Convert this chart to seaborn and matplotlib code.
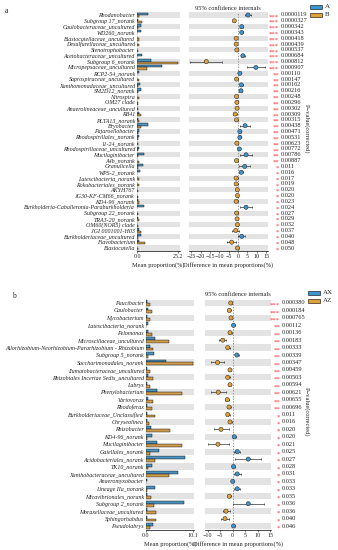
import numpy as np
import pandas as pd
import matplotlib
matplotlib.use("Agg")
import matplotlib.pyplot as plt
import seaborn as sns
from matplotlib.patches import Rectangle
from matplotlib import transforms

# ---------------- data: panel a ----------------
names_a = ["Rhodanobacter", "Subgroup 17_norank", "Caulobacteraceae_uncultured", "WD260_norank",
           "Blastocatellaceae_uncultured", "Desulfurellaceae_uncultured", "Stenotrophobacter",
           "Acetobacteraceae_uncultured", "Subgroup 6_norank", "Micropepsaceae_uncultured",
           "RCP2-54_norank", "Saprospiraceae_uncultured", "Xanthomonadaceae_uncultured",
           "SM2D12_norank", "Nitrospira", "OM27 clade", "Anaerolineaceae_uncultured", "RB41",
           "PLTA13_norank", "Bryobacter", "Pajaroellobacter", "Rhodospirillales_norank",
           "11-24_norank", "Rhodospirillaceae_uncultured", "Mucilaginibacter", "A4b_norank",
           "Granulicella", "WPS-2_norank", "Latescibacteria_norank", "Rokubacteriales_norank",
           "AKYH767", "JG30-KF-CM66_norank", "KD4-96_norank",
           "Burkholderia-Caballeronia-Paraburkholderia", "Subgroup 22_norank", "TRA3-20_norank",
           "OM60(NOR5) clade", "JGI 0001001-H03", "Burkholderiaceae_uncultured",
           "Flavobacterium", "Blastocatella"]
mean_A = [7.0, 0.8, 2.5, 2.2, 0.3, 0.3, 0.3, 2.8, 8.5, 15.5, 1.0, 0.3, 2.0, 2.2, 0.2, 0.3, 0.2,
          1.0, 0.5, 6.5, 1.4, 1.5, 0.3, 1.2, 4.0, 0.3, 3.5, 2.0, 0.2, 0.2, 0.3, 0.2, 0.5, 4.5,
          0.2, 0.5, 0.2, 1.0, 2.5, 1.5, 0.2]
mean_B = [1.5, 2.8, 0.5, 0.3, 1.2, 1.2, 0.9, 0.3, 25.0, 6.0, 0.2, 1.1, 0.4, 0.7, 1.0, 0.9, 0.7,
          2.5, 1.3, 2.7, 0.4, 0.5, 0.9, 0.5, 0.9, 1.1, 0.8, 0.3, 1.2, 1.2, 0.7, 0.5, 1.5, 0.3,
          0.9, 1.0, 0.5, 2.2, 0.5, 4.8, 0.5]
diff_a = [5.4, -2.0, 2.0, 2.0, -1.0, -1.0, -0.6, 2.6, -17.0, 9.6, 1.0, -0.8, 1.8, 1.6, -0.8,
          -0.6, -0.5, -1.5, -0.8, 3.8, 1.0, 1.0, -0.6, 0.7, 4.3, -0.8, 3.6, 1.7, -1.0, -1.0,
          -0.4, -0.3, -1.0, 4.3, -0.7, -0.5, -0.3, -1.2, 2.0, -3.4, -0.3]
ci_a = [1.8, 0.6, 0.8, 0.6, 0.5, 0.5, 0.5, 1.0, 8.5, 5.0, 0.5, 0.6, 0.7, 0.8, 0.5, 0.5, 0.6,
        1.2, 0.7, 2.6, 0.7, 0.8, 0.5, 0.6, 3.0, 0.6, 2.8, 1.2, 0.8, 0.8, 0.6, 0.5, 1.2, 3.0,
        0.6, 0.6, 0.5, 1.8, 1.8, 2.5, 0.6]
p_a = ["0.0000119", "0.0000327", "0.000342", "0.000343", "0.000418", "0.000439", "0.000537",
       "0.000684", "0.000812", "0.000907", "0.00110", "0.00147", "0.00162", "0.00216",
       "0.00248", "0.00296", "0.00302", "0.00309", "0.00315", "0.00438", "0.00471", "0.00531",
       "0.00623", "0.00772", "0.00786", "0.00887", "0.011", "0.016", "0.017", "0.019", "0.020",
       "0.020", "0.023", "0.024", "0.027", "0.029", "0.032", "0.037", "0.040", "0.048", "0.050"]
groups_a = ["A", "B"]

# ---------------- data: panel b ----------------
names_b = ["Paucibacter", "Caulobacter", "Mycobacterium", "Latescibacteria_norank", "Pelomonas",
           "Microscillaceae_uncultured", "Allorhizobium-Neorhizobium-Pararhizobium - Rhizobium",
           "Subgroup 5_norank", "Saccharimonadales_norank", "Ilumatobacteraceae_uncultured",
           "Rhizobiales Incertae Sedis_uncultured", "Labrys", "Phenylobacterium", "Variovorax",
           "Rhodoferax", "Burkholderiaceae_Unclassified", "Chryseolinea", "Rhizobacter",
           "KD4-96_norank", "Mucilaginibacter", "Gaiellales_norank", "Acidobacteriales_norank",
           "TK10_norank", "Xanthobacteraceae_uncultured", "Anaeromyxobacter", "Lineage IIa_norank",
           "Micavibrionales_norank", "Subgroup 2_norank", "Moraxellaceae_uncultured",
           "Sphingorhabdus", "Pseudolabrys"]
mean_AX = [0.3, 0.5, 0.3, 0.4, 0.4, 2.0, 0.9, 1.8, 4.3, 0.2, 0.4, 0.3, 2.3, 0.4, 0.3, 0.2, 0.2,
           1.1, 1.3, 2.3, 2.9, 8.4, 1.2, 6.9, 0.3, 2.0, 0.3, 8.2, 0.3, 0.2, 1.5]
mean_AZ = [0.8, 1.3, 0.8, 0.05, 1.3, 5.0, 1.6, 0.5, 10.1, 0.8, 1.6, 0.8, 7.7, 1.6, 1.2, 1.9, 0.7,
           5.2, 0.3, 7.9, 0.8, 2.0, 0.5, 4.9, 0.1, 0.3, 1.0, 1.8, 2.1, 2.1, 0.9]
diff_b = [-0.7, -1.3, -0.6, 0.4, -1.0, -3.9, -1.9, 1.7, -6.0, -1.0, -1.9, -1.0, -5.7, -2.1, -1.4,
          -1.9, -1.0, -4.6, 0.7, -5.8, 1.9, 6.3, 0.4, 1.9, 0.1, 1.9, -1.3, 6.3, -2.6, -3.0, 0.4]
ci_b = [0.5, 0.6, 0.5, 0.4, 0.6, 1.4, 0.8, 0.8, 2.7, 0.5, 0.9, 0.5, 3.0, 0.8, 0.7, 0.8, 0.6, 3.0,
        0.6, 4.2, 1.2, 5.2, 0.5, 1.3, 0.4, 1.2, 0.7, 6.2, 1.4, 1.6, 0.6]
p_b = ["0.000380", "0.000184", "0.000765", "0.00112", "0.00136", "0.00183", "0.00333", "0.00339",
       "0.00347", "0.00459", "0.00503", "0.00594", "0.00621", "0.00655", "0.00696", "0.011",
       "0.016", "0.020", "0.020", "0.021", "0.025", "0.027", "0.028", "0.031", "0.033", "0.033",
       "0.035", "0.036", "0.036", "0.040", "0.046"]
groups_b = ["AX", "AZ"]

# ---------------- style ----------------
sns.set_theme(style="white")
plt.rcParams['font.family'] = ['Liberation Serif', 'DejaVu Serif']
plt.rcParams['axes.unicode_minus'] = True

W, H = 338, 550
fig = plt.figure(figsize=(W / 100, H / 100), dpi=100)


def fx(px):
    return px / W


def fy(py):
    return 1 - py / H


BLUE = "#3A95D0"
ORANGE = "#E2A038"
GRAY = "#E3E3E3"
FS = 4.3


def panel(names, groups, v1, v2, diff, ci, pvals, bar_px, bar_lim, bar_tick, ci_px, ci_lim,
          ci_ticks, y_first, y_last, star_x, ptext_x, band_half):
    n = len(names)
    pitch = (y_last - y_first) / (n - 1)
    top = y_first - pitch / 2
    bottom = y_last + pitch / 2
    hgt = (bottom - top) / H

    # ----- bar axes -----
    axb = fig.add_axes([fx(bar_px[0]), fy(bottom), (bar_px[1] - bar_px[0]) / W, hgt])
    axb.set_facecolor('none')
    for i in range(0, n, 2):
        axb.axhspan(i - band_half, i + band_half, color=GRAY, zorder=0, lw=0)
    df = pd.DataFrame({'taxon': names * 2,
                       'group': [groups[0]] * n + [groups[1]] * n,
                       'value': list(v1) + list(v2)})
    sns.barplot(data=df, y='taxon', x='value', hue='group', order=names, hue_order=groups,
                palette=[BLUE, ORANGE], orient='h', width=0.78, edgecolor='black',
                linewidth=0.3, legend=False, errorbar=None, ax=axb, zorder=2)
    axb.set_ylim(n - 0.5, -0.5)
    axb.set_xlim(0, bar_lim)
    axb.set_xticks([0, bar_tick])
    axb.set_xticklabels(["0.0", f"{bar_tick}"])
    axb.set_ylabel('')
    axb.set_xlabel('Mean proportion(%)', fontsize=4.6, labelpad=2)
    axb.tick_params(axis='y', length=0, pad=1.5, labelsize=FS)
    axb.tick_params(axis='x', length=1.5, width=0.4, pad=1, labelsize=FS, bottom=True)
    for t in axb.get_yticklabels():
        t.set_fontstyle('italic')

    # ----- CI axes -----
    axc = fig.add_axes([fx(ci_px[0]), fy(bottom), (ci_px[1] - ci_px[0]) / W, hgt])
    axc.set_facecolor('none')
    y = np.arange(n)
    for i in range(0, n, 2):
        axc.axhspan(i - band_half, i + band_half, color=GRAY, zorder=0, lw=0)
    axc.axvline(0, color='#777777', ls=(0, (2, 2)), lw=0.5, zorder=1)
    axc.errorbar(diff, y, xerr=ci, fmt='none', ecolor='#333333', elinewidth=0.5,
                 capsize=1.0, capthick=0.5, zorder=2)
    cidf = pd.DataFrame({'diff': diff, 'y': y,
                         'grp': [groups[0] if d > 0 else groups[1] for d in diff]})
    sns.scatterplot(data=cidf, x='diff', y='y', hue='grp', hue_order=groups,
                    palette=[BLUE, ORANGE], s=9, edgecolor='#333333', linewidth=0.4,
                    legend=False, ax=axc, zorder=3)
    axc.set_ylim(n - 0.5, -0.5)
    axc.set_xlim(*ci_lim)
    axc.set_xticks(ci_ticks)
    axc.set_yticks([])
    axc.set_ylabel('')
    axc.set_xlabel('Difference in mean proportions(%)', fontsize=4.6, labelpad=2)
    axc.tick_params(axis='x', length=1.5, width=0.4, pad=1, labelsize=FS, bottom=True)

    for ax in (axb, axc):
        for s in ['top', 'right', 'left']:
            ax.spines[s].set_visible(False)
        ax.spines['bottom'].set_linewidth(0.5)
        ax.spines['bottom'].set_color('black')

    # ----- p-values -----
    trans = transforms.blended_transform_factory(fig.transFigure, axc.transData)
    for i, p in enumerate(pvals):
        pv = float(p)
        stars = '***' if pv < 0.001 else ('**' if pv < 0.01 else '*')
        axc.text(fx(star_x), i + 0.3, stars, transform=trans, ha='right', va='center',
                 color='#FF2A2A', fontsize=4.8, clip_on=False)
        axc.text(fx(ptext_x), i, p, transform=trans, ha='left', va='center',
                 fontsize=4.6, clip_on=False)
    return axb, axc


panel(names_a, groups_a, mean_A, mean_B, diff_a, ci_a, p_a,
      bar_px=(137, 180), bar_lim=26.3, bar_tick=25.2,
      ci_px=(189, 268), ci_lim=(-26.25, 16.07), ci_ticks=[-25, -20, -15, -10, -5, 0, 5, 10, 15],
      y_first=15, y_last=248, star_x=279, ptext_x=280.5, band_half=0.43)

panel(names_b, groups_b, mean_AX, mean_AZ, diff_b, ci_b, p_b,
      bar_px=(146, 194), bar_lim=10.4, bar_tick=10.1,
      ci_px=(205, 271), ci_lim=(-11, 15.4), ci_ticks=[-10, -5, 0, 5, 10, 15],
      y_first=303, y_last=526, star_x=280, ptext_x=281.5, band_half=0.42)

# ---------------- annotations ----------------
fig.text(fx(5), fy(11), 'a', fontsize=5.5, ha='left', va='center')
fig.text(fx(12), fy(296), 'b', fontsize=5.5, ha='left', va='center')
fig.text(fx(228), fy(8), '95% confidence internals', fontsize=4.6, ha='center', va='center')
fig.text(fx(238), fy(295), '95% confidence internals', fontsize=4.6, ha='center', va='center')
fig.text(fx(307), fy(129), 'P\u2212value(corrected)', fontsize=4.6, rotation=270,
         ha='center', va='center')
fig.text(fx(307), fy(412), 'P\u2212value(corrected)', fontsize=4.6, rotation=270,
         ha='center', va='center')


def legend_entry(x, y, color, label):
    fig.add_artist(Rectangle((fx(x), fy(y + 2)), 12 / W, 4 / H, facecolor=color,
                             edgecolor='black', lw=0.4, transform=fig.transFigure))
    fig.text(fx(x + 15), fy(y), label, fontsize=5, ha='left', va='center')


legend_entry(310, 7, BLUE, 'A')
legend_entry(310, 15, ORANGE, 'B')
legend_entry(308, 293, BLUE, 'AX')
legend_entry(308, 301, ORANGE, 'AZ')

fig.savefig('out.png', dpi=100)
